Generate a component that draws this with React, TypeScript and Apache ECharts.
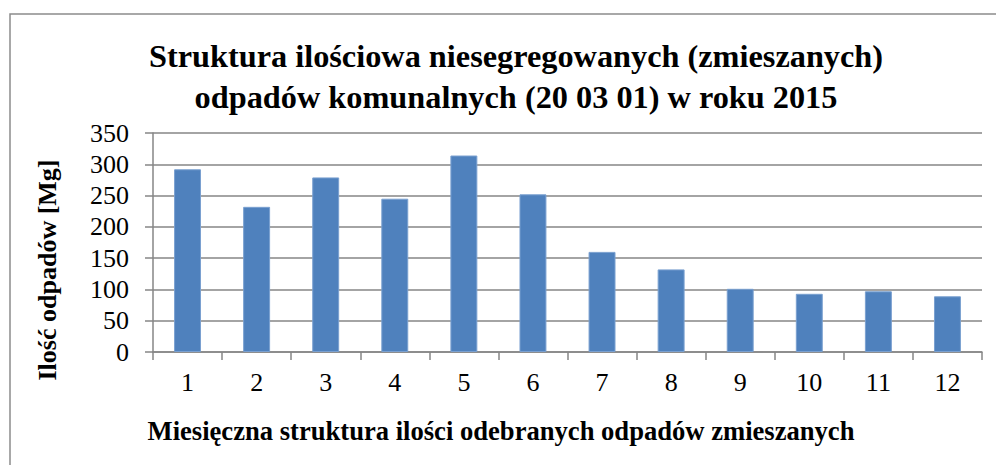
import React, { useEffect, useRef } from "react";
import * as echarts from "echarts";

const categories = ["1", "2", "3", "4", "5", "6", "7", "8", "9", "10", "11", "12"];
const values = [292, 232, 279, 245, 314, 252, 160, 132, 101, 93, 97, 89];
const titleLines = [
  "Struktura ilościowa niesegregowanych (zmieszanych)",
  "odpadów komunalnych (20 03 01) w roku 2015",
];
const yAxisTitle = "Ilość odpadów [Mg]";
const xAxisTitle = "Miesięczna struktura ilości odebranych odpadów zmieszanych";

const FONT = "'Liberation Serif', 'Times New Roman', serif";

export default function App() {
  const ref = useRef<HTMLDivElement>(null);
  useEffect(() => {
    if (!ref.current) return;
    const chart = echarts.init(ref.current, null, { renderer: "svg" });
    chart.setOption({
      animation: false,
      backgroundColor: "#ffffff",
      grid: { left: 153, top: 133, right: 14, bottom: 113, containLabel: false },
      xAxis: {
        type: "category",
        data: categories,
        boundaryGap: true,
        axisLine: { show: true, lineStyle: { color: "#868686", width: 1.5 } },
        axisTick: { show: true, alignWithLabel: false, length: 8, lineStyle: { color: "#868686", width: 1.5 } },
        axisLabel: { margin: 17, color: "#000", fontFamily: FONT, fontSize: 26 },
      },
      yAxis: {
        type: "value",
        min: 0,
        max: 350,
        interval: 50,
        axisLine: { show: true, lineStyle: { color: "#868686", width: 1.5 } },
        axisTick: { show: true, length: 8, lineStyle: { color: "#868686", width: 1.5 } },
        axisLabel: { margin: 24, color: "#000", fontFamily: FONT, fontSize: 26 },
        splitLine: { show: true, lineStyle: { color: "#868686", width: 1.5 } },
      },
      series: [
        {
          type: "bar",
          data: values,
          barWidth: "39%",
          itemStyle: { color: "#4F81BD", borderColor: "#7AA0D0", borderWidth: 1 },
        },
      ],
      graphic: [
        {
          type: "rect",
          shape: { x: 10, y: 14, width: 1000, height: 500 },
          style: { fill: "none", stroke: "#8c8c8c", lineWidth: 1.5 },
          silent: true,
        },
        {
          type: "text",
          x: 516,
          y: 76,
          style: {
            text: titleLines.join("\n"),
            align: "center",
            verticalAlign: "middle",
            lineHeight: 41,
            fontFamily: FONT,
            fontWeight: "bold",
            fontSize: 32.3,
            fill: "#000",
          },
        },
        {
          type: "text",
          x: 47,
          y: 270,
          rotation: Math.PI / 2,
          style: {
            text: yAxisTitle,
            align: "center",
            verticalAlign: "middle",
            fontFamily: FONT,
            fontWeight: "bold",
            fontSize: 26,
            fill: "#000",
          },
        },
        {
          type: "text",
          x: 501,
          y: 431,
          style: {
            text: xAxisTitle,
            align: "center",
            verticalAlign: "middle",
            fontFamily: FONT,
            fontWeight: "bold",
            fontSize: 26.6,
            fill: "#000",
          },
        },
      ],
    });
    return () => chart.dispose();
  }, []);
  return (
    <div
      ref={ref}
      style={{ position: "fixed", left: 0, top: 0, width: 996, height: 465 }}
    />
  );
}
